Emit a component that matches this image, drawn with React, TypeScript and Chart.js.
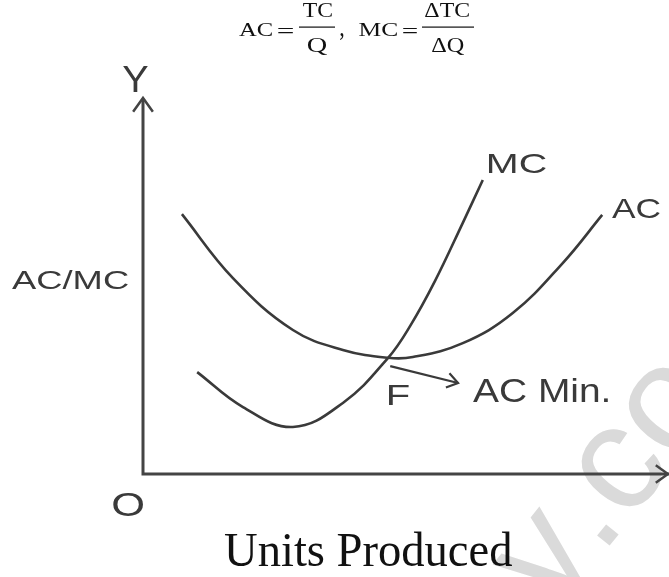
import React, { useEffect, useRef } from "react";
import { Chart, registerables } from "chart.js";

Chart.register(...registerables);

// Average cost curve (x = units produced, y = cost), schematic units 0..10
const acX = [0.74, 1.71, 2.85, 3.8, 4.66, 5.13, 6.08, 7.03, 7.98, 8.73];
const acY = [6.91, 5.21, 3.83, 3.3, 3.09, 3.11, 3.48, 4.28, 5.61, 6.89];
// Marginal cost curve
const mcX = [1.03, 1.9, 2.85, 3.8, 4.66, 5.08, 5.55, 6.08, 6.46];
const mcY = [2.71, 1.78, 1.25, 1.89, 3.09, 3.94, 5.13, 6.68, 7.82];

// Arrow from F (AC minimum) to the "AC Min." label
const arrowX = [4.7, 5.99];
const arrowY = [2.87, 2.42];

const axisMax = 10;

const SANS = '"Liberation Sans", Arial, sans-serif';
const SERIF = '"Liberation Serif", "Times New Roman", serif';

function fitText(
  ctx: CanvasRenderingContext2D,
  text: string,
  family: string,
  color: string,
  x0: number,
  x1: number,
  y0: number,
  y1: number
) {
  ctx.save();
  ctx.font = `100px ${family}`;
  ctx.textAlign = "left";
  ctx.textBaseline = "alphabetic";
  const m = ctx.measureText(text);
  const w = m.actualBoundingBoxLeft + m.actualBoundingBoxRight;
  const h = m.actualBoundingBoxAscent + m.actualBoundingBoxDescent;
  ctx.translate(x0, y0);
  ctx.scale((x1 - x0) / w, (y1 - y0) / h);
  ctx.fillStyle = color;
  ctx.fillText(text, m.actualBoundingBoxLeft, m.actualBoundingBoxAscent);
  ctx.restore();
}

function chevron(
  ctx: CanvasRenderingContext2D,
  tx: number,
  ty: number,
  angle: number,
  len: number,
  spread: number
) {
  ctx.beginPath();
  ctx.moveTo(tx + len * Math.cos(angle + Math.PI - spread), ty + len * Math.sin(angle + Math.PI - spread));
  ctx.lineTo(tx, ty);
  ctx.lineTo(tx + len * Math.cos(angle + Math.PI + spread), ty + len * Math.sin(angle + Math.PI + spread));
  ctx.stroke();
}

const drawPlugin = {
  id: "econDecor",
  beforeDatasetsDraw(chart: any) {
    const ctx: CanvasRenderingContext2D = chart.ctx;
    const xs = chart.scales.x;
    const ys = chart.scales.y;
    const ox = xs.getPixelForValue(0);
    const oy = ys.getPixelForValue(0);
    const xe = xs.getPixelForValue(axisMax);
    const ye = ys.getPixelForValue(axisMax);

    // watermark
    ctx.save();
    ctx.fillStyle = "#dadada";
    ctx.font = `150px ${SANS}`;
    ctx.translate(608, 535);
    ctx.rotate((-51 * Math.PI) / 180);
    ctx.textBaseline = "alphabetic";
    const dw = ctx.measureText(".").width;
    ctx.textAlign = "right";
    ctx.fillText("y", -dw / 2, 8);
    ctx.textAlign = "left";
    ctx.fillText(".com", -dw / 2, 8);
    ctx.restore();

    ctx.save();
    ctx.strokeStyle = "#444444";
    ctx.lineWidth = 3;
    ctx.lineCap = "butt";
    ctx.beginPath();
    ctx.moveTo(ox, ye + 1);
    ctx.lineTo(ox, oy);
    ctx.lineTo(xe, oy);
    ctx.stroke();
    ctx.lineWidth = 2.5;
    ctx.lineJoin = "miter";
    chevron(ctx, ox, ye, -Math.PI / 2, 17, 0.62);
    chevron(ctx, xe - 1, oy, 0, 15, 0.62);

    // arrow F -> AC Min.
    const ax0 = xs.getPixelForValue(arrowX[0]);
    const ay0 = ys.getPixelForValue(arrowY[0]);
    const ax1 = xs.getPixelForValue(arrowX[1]);
    const ay1 = ys.getPixelForValue(arrowY[1]);
    ctx.strokeStyle = "#3a3a3a";
    ctx.lineWidth = 2.2;
    ctx.beginPath();
    ctx.moveTo(ax0, ay0);
    ctx.lineTo(ax1, ay1);
    ctx.stroke();
    chevron(ctx, ax1, ay1, Math.atan2(ay1 - ay0, ax1 - ax0), 13, 0.6);
    ctx.restore();
  },
  afterDraw(chart: any) {
    const ctx: CanvasRenderingContext2D = chart.ctx;
    const t = "#3a3a3a";
    fitText(ctx, "Y", SANS, t, 123, 148, 67, 92);
    fitText(ctx, "AC/MC", SANS, t, 12, 128, 270, 289);
    fitText(ctx, "MC", SANS, t, 489, 546, 153, 173);
    fitText(ctx, "AC", SANS, t, 612, 660, 198, 218);
    fitText(ctx, "F", SANS, t, 389, 409, 385, 405);
    fitText(ctx, "AC Min.", SANS, t, 473, 608, 378, 402);
    fitText(ctx, "O", SANS, t, 113, 143, 492, 516);

    const k = "#111111";
    fitText(ctx, "Units Produced", SERIF, k, 225, 512, 533, 567);

    // formula
    fitText(ctx, "AC", SERIF, k, 239, 272, 23, 36);
    fitText(ctx, "=", SERIF, k, 278, 293, 28.5, 33.5);
    fitText(ctx, "TC", SERIF, k, 303, 332, 3.5, 17.5);
    fitText(ctx, "Q", SERIF, k, 308, 327, 38, 55);
    fitText(ctx, ",", SERIF, k, 340, 343.5, 33, 40);
    fitText(ctx, "MC", SERIF, k, 359, 397, 23, 36);
    fitText(ctx, "=", SERIF, k, 403, 417, 28.5, 33.5);
    fitText(ctx, "\u0394TC", SERIF, k, 425, 469, 3.5, 17.5);
    fitText(ctx, "\u0394Q", SERIF, k, 432, 464, 38, 55);
    ctx.save();
    ctx.fillStyle = k;
    ctx.fillRect(299, 26.5, 36, 1.2);
    ctx.fillRect(422, 26.5, 52, 1.2);
    ctx.restore();
  },
};

export default function App() {
  const ref = useRef<HTMLCanvasElement | null>(null);
  useEffect(() => {
    document.body.style.margin = "0";
    const canvas = ref.current;
    if (!canvas) return;
    const toPts = (xs: number[], ys: number[]) => xs.map((x, i) => ({ x, y: ys[i] }));
    const chart = new Chart(canvas, {
      type: "scatter",
      data: {
        datasets: [
          {
            label: "AC",
            data: toPts(acX, acY),
            showLine: true,
            borderColor: "#3a3a3a",
            borderWidth: 2.6,
            pointRadius: 0,
            tension: 0.4,
            clip: false,
          } as any,
          {
            label: "MC",
            data: toPts(mcX, mcY),
            showLine: true,
            borderColor: "#3a3a3a",
            borderWidth: 2.6,
            pointRadius: 0,
            tension: 0.4,
            clip: false,
          } as any,
        ],
      },
      options: {
        animation: false,
        responsive: false,
        events: [],
        layout: { padding: { left: 143, right: 0, top: 98, bottom: 103 } },
        scales: {
          x: { type: "linear", min: 0, max: axisMax, display: false },
          y: { type: "linear", min: 0, max: axisMax, display: false },
        },
        plugins: { legend: { display: false }, tooltip: { enabled: false } },
      },
      plugins: [drawPlugin],
    });
    return () => chart.destroy();
  }, []);
  return (
    <div style={{ position: "absolute", left: 0, top: 0, width: 669, height: 577, background: "#fff" }}>
      <canvas ref={ref} width={669} height={577} style={{ display: "block" }} />
    </div>
  );
}
